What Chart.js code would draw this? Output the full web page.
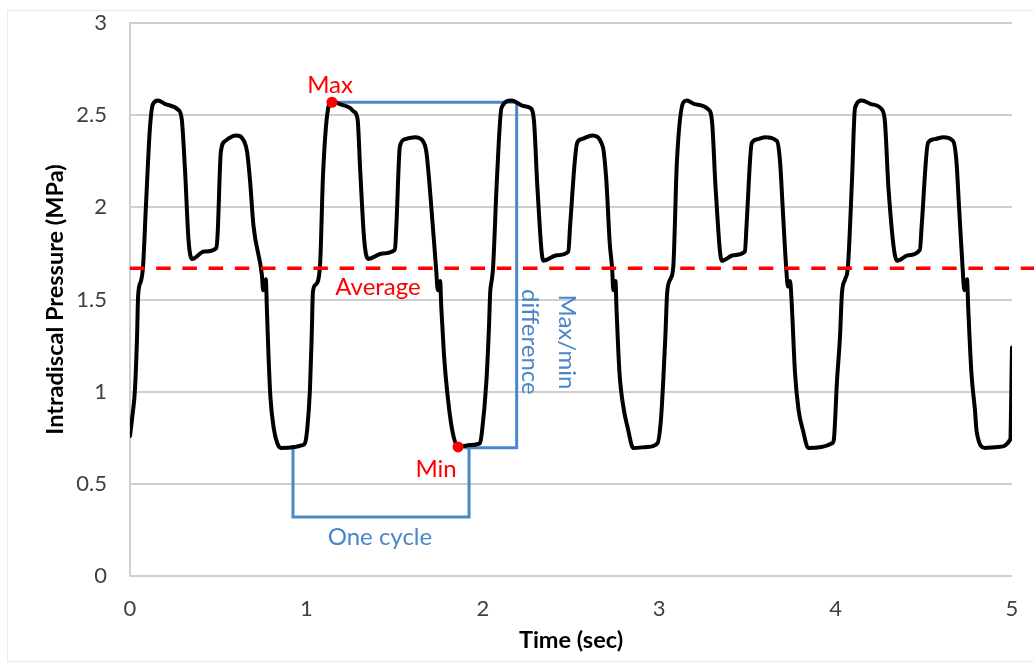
<!DOCTYPE html>
<html>
<head>
<meta charset="utf-8">
<script src="https://cdn.jsdelivr.net/npm/chart.js@4/dist/chart.umd.min.js"></script>
<style>
  html, body { margin: 0; padding: 0; background: #ffffff; }
  #wrap { position: relative; width: 1034px; height: 662px; overflow: hidden; }
  #frame { position: absolute; left: 7px; top: 10px; width: 1040px; height: 650px; border: 1px solid #ececec; }
  #c { position: absolute; left: 0; top: 0; }
</style>
</head>
<body>
<div id="wrap">
  <div id="frame"></div>
  <canvas id="c" width="1034" height="662"></canvas>
</div>
<script>
// Intradiscal pressure trace, five loading cycles (time in s, pressure in MPa)
const timeSec = [
  0.000, 0.015, 0.028, 0.040, 0.046, 0.062, 0.074, 0.090, 0.113, 0.130, 0.158, 0.200, 0.272, 0.293, 0.312, 0.332, 0.352, 0.420, 0.490, 0.497,
  0.515, 0.540, 0.601, 0.646, 0.664, 0.680, 0.700, 0.748, 0.755, 0.770, 0.776, 0.785, 0.796, 0.815, 0.835, 0.855, 0.935, 0.978,
  0.992, 1.005, 1.020, 1.030, 1.037, 1.052, 1.077, 1.094, 1.122, 1.145, 1.190, 1.247, 1.268, 1.290, 1.305, 1.328, 1.350, 1.430, 1.502, 1.510,
  1.530, 1.560, 1.616, 1.660, 1.680, 1.700, 1.735, 1.745, 1.758, 1.765, 1.780, 1.797, 1.825, 1.860, 1.930, 1.984,
  1.995, 2.020, 2.035, 2.042, 2.050, 2.058, 2.080, 2.106, 2.163, 2.230, 2.268, 2.290, 2.310, 2.343, 2.420, 2.485, 2.495,
  2.535, 2.560, 2.620, 2.680, 2.700, 2.720, 2.733, 2.740, 2.752, 2.758, 2.775, 2.800, 2.820, 2.853, 2.930, 2.990,
  3.010, 3.023, 3.035, 3.045, 3.063, 3.080, 3.100, 3.137, 3.157, 3.200, 3.280, 3.300, 3.320, 3.355, 3.420, 3.486, 3.495,
  3.525, 3.560, 3.600, 3.667, 3.685, 3.700, 3.720, 3.730, 3.742, 3.750, 3.770, 3.790, 3.815, 3.845, 3.920, 3.980,
  3.990, 4.008, 4.025, 4.036, 4.054, 4.070, 4.093, 4.110, 4.150, 4.200, 4.263, 4.280, 4.300, 4.348, 4.410, 4.478, 4.488,
  4.524, 4.560, 4.610, 4.666, 4.685, 4.700, 4.720, 4.730, 4.745, 4.752, 4.770, 4.790, 4.800, 4.847, 4.920, 4.990, 5.000
];
const pressureMPa = [
  0.76, 0.88, 1.01, 1.30, 1.52, 1.60, 1.68, 2.00, 2.43, 2.56, 2.58, 2.56, 2.53, 2.48, 2.20, 1.82, 1.72, 1.76, 1.78, 1.86,
  2.30, 2.36, 2.39, 2.36, 2.30, 2.15, 1.90, 1.63, 1.55, 1.61, 1.45, 1.20, 0.97, 0.80, 0.72, 0.695, 0.70, 0.71,
  0.72, 0.80, 1.01, 1.30, 1.54, 1.58, 1.68, 2.17, 2.53, 2.575, 2.56, 2.54, 2.52, 2.48, 2.20, 1.82, 1.72, 1.75, 1.77, 1.90,
  2.33, 2.37, 2.38, 2.36, 2.30, 2.10, 1.67, 1.55, 1.60, 1.45, 1.20, 1.01, 0.80, 0.70, 0.71, 0.72,
  0.78, 1.05, 1.35, 1.54, 1.60, 1.67, 2.15, 2.54, 2.58, 2.55, 2.54, 2.47, 2.10, 1.71, 1.74, 1.76, 1.90,
  2.35, 2.37, 2.39, 2.33, 2.15, 1.80, 1.67, 1.55, 1.60, 1.45, 1.10, 0.90, 0.81, 0.695, 0.70, 0.72,
  0.85, 1.06, 1.30, 1.535, 1.61, 1.68, 2.24, 2.57, 2.58, 2.56, 2.53, 2.46, 2.10, 1.71, 1.74, 1.76, 1.90,
  2.35, 2.37, 2.38, 2.36, 2.25, 2.00, 1.67, 1.57, 1.60, 1.50, 1.10, 0.90, 0.79, 0.695, 0.70, 0.72,
  0.74, 1.06, 1.30, 1.535, 1.61, 1.68, 2.15, 2.54, 2.58, 2.56, 2.53, 2.46, 2.10, 1.71, 1.74, 1.77, 1.90,
  2.35, 2.37, 2.38, 2.36, 2.25, 2.00, 1.67, 1.55, 1.61, 1.45, 1.10, 0.90, 0.78, 0.695, 0.70, 0.74, 1.24
];

// Mean pressure line (runs past the right edge of the plot)
const averageMPa = 1.67;
const averageSpan = [0, 5.125];

// Marked extremes of the second cycle
const maxPoint = { t: 1.145, p: 2.57 };
const minPoint = { t: 1.860, p: 0.70 };

// Bracket outlines
const maxMinBracketT = [1.145, 2.192, 2.192, 1.895];
const maxMinBracketP = [2.57, 2.57, 0.696, 0.696];
const cycleBracketT = [0.924, 0.924, 1.922, 1.922];
const cycleBracketP = [0.71, 0.32, 0.32, 0.70];

// Axis tick labels
const xTickLabels = ['0', '1', '2', '3', '4', '5'];
const yTickLabels = ['0', '0.5', '1', '1.5', '2', '2.5', '3'];

const RED = '#ff0000';
const BLUE = '#4a86c8';
const FONT = 'Lato, "Open Sans", "DejaVu Sans", sans-serif';

const toXY = (ts, ps) => ts.map((t, i) => ({ x: t, y: ps[i] }));

// Text notes placed in data coordinates
const notes = [
  { text: 'Max', t: 1.134, p: 2.620, color: RED, rot: 0 },
  { text: 'Average', t: 1.406, p: 1.524, color: RED, rot: 0 },
  { text: 'Min', t: 1.735, p: 0.537, color: RED, rot: 0 },
  { text: 'One cycle', t: 1.417, p: 0.168, color: BLUE, rot: 0 },
  { text: 'Max/min', t: 2.432, p: 1.27, color: BLUE, rot: 90 },
  { text: 'difference', t: 2.222, p: 1.27, color: BLUE, rot: 90 }
];

const notePlugin = {
  id: 'notes',
  afterDatasetsDraw(chart) {
    const { ctx, scales: { x, y } } = chart;
    ctx.save();
    ctx.font = '24px ' + FONT;
    ctx.textAlign = 'center';
    ctx.textBaseline = 'alphabetic';
    notes.forEach(n => {
      ctx.save();
      ctx.fillStyle = n.color;
      ctx.translate(x.getPixelForValue(n.t), y.getPixelForValue(n.p));
      ctx.rotate(n.rot * Math.PI / 180);
      ctx.fillText(n.text, 0, 0);
      ctx.restore();
    });
    ctx.restore();
  }
};

new Chart(document.getElementById('c'), {
  type: 'scatter',
  data: {
    datasets: [
      {
        label: 'Extremes',
        data: [{ x: maxPoint.t, y: maxPoint.p }, { x: minPoint.t, y: minPoint.p }],
        pointRadius: 5.5,
        pointBackgroundColor: RED,
        pointBorderWidth: 0,
        showLine: false
      },
      {
        label: 'Average',
        data: [{ x: averageSpan[0], y: averageMPa }, { x: averageSpan[1], y: averageMPa }],
        showLine: true,
        borderColor: RED,
        borderWidth: 3.5,
        borderDash: [14.5, 11.7],
        pointRadius: 0,
        clip: false
      },
      {
        label: 'Pressure',
        data: toXY(timeSec, pressureMPa),
        showLine: true,
        borderColor: '#000000',
        borderWidth: 4,
        borderJoinStyle: 'round',
        borderCapStyle: 'round',
        pointRadius: 0,
        cubicInterpolationMode: 'monotone'
      },
      {
        label: 'Max/min difference',
        data: toXY(maxMinBracketT, maxMinBracketP),
        showLine: true,
        borderColor: BLUE,
        borderWidth: 3,
        pointRadius: 0,
        clip: false
      },
      {
        label: 'One cycle',
        data: toXY(cycleBracketT, cycleBracketP),
        showLine: true,
        borderColor: BLUE,
        borderWidth: 3,
        pointRadius: 0,
        clip: false
      }
    ]
  },
  options: {
    responsive: false,
    animation: false,
    events: [],
    layout: { padding: { left: 0, right: 22, top: 23, bottom: 0 } },
    plugins: { legend: { display: false }, tooltip: { enabled: false } },
    scales: {
      x: {
        type: 'linear',
        min: 0,
        max: 5,
        afterFit(s) { s.height = 86; s.paddingLeft = 0; s.paddingRight = 0; },
        afterBuildTicks(s) { s.ticks = xTickLabels.map(v => ({ value: Number(v) })); },
        ticks: {
          callback: (v, i) => xTickLabels[i],
          color: '#404040',
          padding: 20,
          maxRotation: 0,
          font: { family: FONT, size: 22 }
        },
        grid: { display: false, drawTicks: false },
        border: { display: false },
        title: {
          display: true,
          text: 'Time (sec)',
          color: '#000000',
          font: { family: FONT, size: 23.5, weight: 'bold' },
          padding: { top: 0, bottom: 7 }
        }
      },
      y: {
        min: 0,
        max: 3,
        afterFit(s) { s.width = 130; s.paddingTop = 0; s.paddingBottom = 0; },
        afterBuildTicks(s) { s.ticks = yTickLabels.map(v => ({ value: Number(v) })); },
        ticks: {
          callback: (v, i) => yTickLabels[i],
          color: '#404040',
          padding: 23,
          font: { family: FONT, size: 22 }
        },
        grid: { color: '#cfcfcf', lineWidth: 2, drawTicks: false },
        border: { display: true, color: '#cfcfcf', width: 2 },
        title: {
          display: true,
          text: 'Intradiscal Pressure (MPa)',
          color: '#000000',
          font: { family: FONT, size: 23.5, weight: 'bold' },
          padding: { top: 41, bottom: 0 }
        }
      }
    }
  },
  plugins: [notePlugin]
});
</script>
</body>
</html>
